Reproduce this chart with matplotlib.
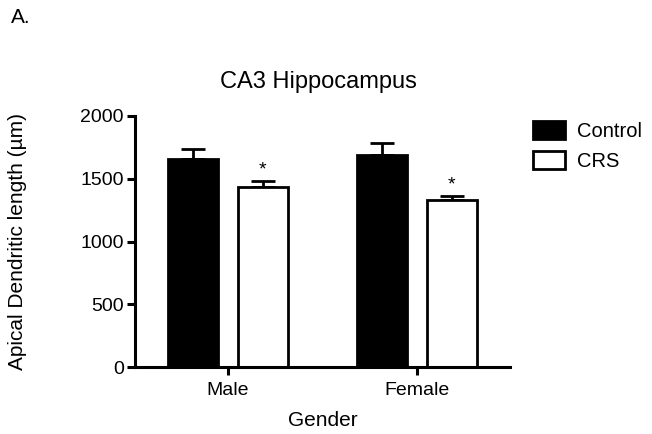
import numpy as np
import matplotlib
matplotlib.use("Agg")
import matplotlib.pyplot as plt

plt.rcParams['font.family'] = ['Liberation Sans', 'DejaVu Sans']

# data
genders = ["Male", "Female"]
groups = ["Control", "CRS"]
control_mean = [1655, 1689]
control_sem = [80, 93]
crs_mean = [1432, 1331]
crs_sem = [47, 32]
sig = ["*", "*"]

fig = plt.figure(figsize=(6.52, 4.34), dpi=100)
ax = fig.add_axes([0.207, 0.154, 0.575, 0.579])

x = np.arange(len(genders))
w = 0.265
off = 0.185

ax.bar(x - off, control_mean, w, color="black", edgecolor="black", linewidth=2, label="Control", zorder=2)
ax.bar(x + off, crs_mean, w, color="white", edgecolor="black", linewidth=2, label="CRS", zorder=2)

ax.errorbar(x - off, control_mean, yerr=[np.zeros(2), control_sem], fmt="none",
            ecolor="black", elinewidth=2, capsize=8.5, capthick=2, zorder=1)
ax.errorbar(x + off, crs_mean, yerr=[np.zeros(2), crs_sem], fmt="none",
            ecolor="black", elinewidth=2, capsize=8.5, capthick=2, zorder=1)

for i in range(len(genders)):
    ax.annotate(sig[i], (x[i] + off, crs_mean[i] + crs_sem[i]), xytext=(0, 2),
                textcoords="offset points", ha="center", va="bottom", fontsize=14)

ax.set_xlim(-0.492, 1.492)
ax.set_ylim(0, 2000)
ax.set_yticks([0, 500, 1000, 1500, 2000])
ax.set_xticks(x)
ax.set_xticklabels(genders)

for s in ["top", "right"]:
    ax.spines[s].set_visible(False)
for s in ["left", "bottom"]:
    ax.spines[s].set_linewidth(2.2)
ax.tick_params(width=2.2, length=6, labelsize=14)
ax.tick_params(axis="x", pad=5)
ax.tick_params(axis="y", pad=2)

ax.set_title("CA3 Hippocampus", fontsize=17, pad=20, x=0.49)
ax.set_xlabel("Gender", fontsize=15, labelpad=8)
ax.set_ylabel("Apical Dendritic length (\u00b5m)", fontsize=15)
ax.yaxis.set_label_coords(-0.289, 0.5)

fig.text(0.017, 0.947, "A.", fontsize=15)

fig.legend(loc="upper left", bbox_to_anchor=(533 / 652, 1 - 121 / 434), frameon=False,
           borderpad=0, borderaxespad=0, handlelength=1.6, handleheight=1.0,
           labelspacing=0.5, handletextpad=0.6, fontsize=14.5)

fig.savefig("out.png", dpi=100)
